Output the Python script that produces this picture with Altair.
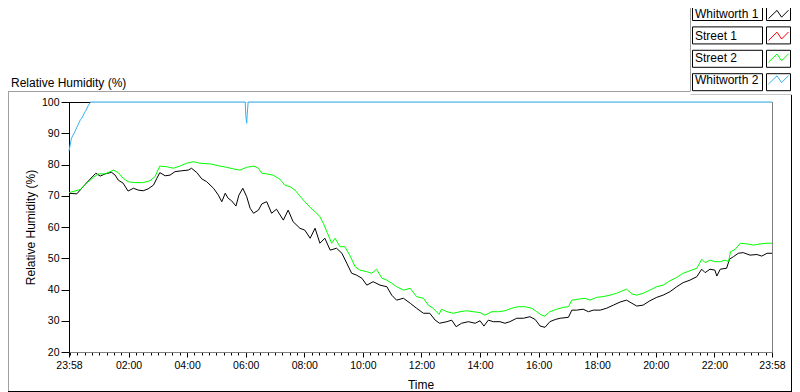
import altair as alt
import pandas as pd

# ---------------- data (minutes elapsed since 23:58, relative humidity %) ----------------
SERIES = ["Whitworth 1", "Street 1", "Street 2", "Whitworth 2"]
COLORS = ["#000000", "#ff0000", "#00ff00", "#33b1f2"]

BLACK_T = [0, 16, 29, 43, 55, 64, 74, 87, 94, 101,
           111, 121, 132, 142, 152, 162, 173, 180, 186, 197,
           207, 217, 231, 244, 251, 262, 272, 282, 296, 306,
           313, 320, 326, 333, 342, 348, 356, 364, 371, 378,
           388, 395, 405, 415, 425, 439, 449, 459, 473, 483,
           494, 504, 514, 524, 535, 548, 559, 569, 579, 589,
           600, 610, 623, 637, 651, 661, 671, 685, 699, 712,
           726, 739, 750, 759, 774, 784, 793, 804, 818, 832,
           842, 850, 859, 869, 883, 893, 903, 917, 931, 944,
           955, 965, 975, 985, 996, 1006, 1023, 1030, 1040, 1053,
           1064, 1074, 1088, 1101, 1115, 1129, 1142, 1153, 1163, 1176,
           1190, 1204, 1217, 1231, 1245, 1258, 1272, 1286, 1296, 1303,
           1313, 1323, 1327, 1334, 1347, 1353, 1361, 1371, 1381, 1395,
           1409, 1419, 1430, 1440]
BLACK_V = [70.8, 70.6, 72.9, 75.3, 77.2, 76.3, 77.0, 77.5, 76.7, 75.0,
           74.0, 71.5, 72.4, 71.8, 71.6, 72.2, 73.4, 75.6, 77.4, 76.4,
           76.6, 77.7, 78.0, 78.2, 78.8, 77.4, 75.4, 74.5, 72.4, 70.2,
           68.1, 70.8, 69.2, 68.4, 66.7, 70.2, 72.4, 69.7, 66.0, 64.4,
           65.4, 67.4, 68.1, 64.4, 65.7, 62.2, 65.4, 61.7, 59.6, 59.0,
           56.4, 59.6, 54.8, 56.4, 52.6, 53.2, 51.6, 48.4, 45.2, 44.6,
           43.6, 41.4, 42.5, 41.4, 40.9, 38.2, 36.6, 37.2, 35.6, 34.0,
           32.4, 32.4, 30.2, 29.2, 29.7, 30.2, 28.1, 29.2, 29.7, 29.2,
           30.0, 28.3, 30.2, 29.7, 29.7, 29.2, 29.7, 30.8, 30.8, 31.3,
           30.4, 28.3, 27.9, 29.7, 30.4, 30.8, 31.1, 33.4, 33.4, 33.7,
           32.9, 33.4, 33.4, 34.0, 35.0, 36.0, 36.6, 35.6, 34.7, 35.0,
           36.4, 37.5, 38.2, 39.3, 40.9, 42.2, 43.0, 44.1, 46.5, 45.4,
           46.5, 46.2, 44.3, 46.5, 46.8, 49.7, 50.5, 51.6, 51.8, 51.0,
           51.2, 50.7, 51.6, 51.6]

GREEN_T = [0, 23, 36, 50, 60, 74, 84, 91, 101, 111,
           121, 135, 152, 166, 176, 186, 200, 214, 227, 241,
           255, 268, 289, 309, 323, 337, 350, 364, 378, 388,
           395, 405, 418, 432, 442, 453, 463, 473, 483, 494,
           504, 514, 521, 529, 538, 545, 555, 565, 576, 586,
           596, 610, 620, 630, 641, 651, 661, 671, 685, 699,
           712, 726, 736, 746, 758, 763, 774, 787, 801, 815,
           828, 842, 852, 866, 880, 893, 907, 920, 934, 948,
           958, 968, 975, 985, 999, 1013, 1023, 1030, 1043, 1057,
           1067, 1081, 1094, 1108, 1122, 1129, 1142, 1153, 1163, 1176,
           1190, 1204, 1217, 1231, 1245, 1258, 1272, 1286, 1296, 1303,
           1313, 1323, 1334, 1344, 1351, 1355, 1365, 1375, 1389, 1402,
           1416, 1430, 1440]
GREEN_V = [71.0, 72.0, 74.0, 75.9, 77.0, 77.0, 77.7, 78.2, 77.4, 75.6,
           74.5, 74.2, 74.2, 74.8, 76.1, 79.5, 79.3, 78.8, 79.5, 80.4,
           80.9, 80.4, 80.2, 79.5, 79.1, 78.6, 78.2, 79.1, 79.5, 78.8,
           77.2, 77.0, 76.6, 75.3, 73.4, 72.9, 71.8, 69.9, 68.1, 66.3,
           64.9, 63.3, 61.2, 58.2, 54.8, 56.4, 53.7, 53.7, 50.7, 47.3,
           46.2, 45.7, 45.2, 46.5, 43.6, 43.0, 42.0, 40.9, 39.8, 40.4,
           37.7, 37.2, 35.0, 34.0, 32.0, 33.7, 32.9, 32.4, 32.9, 33.2,
           32.9, 32.6, 31.8, 32.9, 32.9, 33.2, 34.0, 34.5, 34.5, 34.0,
           32.9, 31.8, 31.5, 32.9, 33.7, 34.3, 34.5, 36.6, 36.9, 37.2,
           36.6, 37.5, 37.7, 38.2, 38.8, 39.3, 40.1, 38.6, 38.2, 38.8,
           39.8, 40.9, 41.4, 42.8, 43.9, 45.2, 46.0, 46.8, 49.7, 48.6,
           49.4, 48.9, 48.9, 49.4, 48.9, 52.1, 52.9, 54.8, 54.6, 54.2,
           54.6, 54.8, 54.8]

BLUE_T = [0, 5, 12, 23, 26, 33, 35, 40, 44, 361, 362, 364, 365, 367, 1440]
BLUE_V = [84.3, 88.4, 90.5, 94.2, 94.8, 96.9, 97.4, 99.0, 100, 100, 96.0, 93.2, 96.0, 100, 100]

RED_T = []
RED_V = []

MAJOR_TICKS = [0, 122, 242, 362, 482, 602, 722, 842, 962, 1082, 1202, 1322, 1440]
Y_TICKS = [20, 30, 40, 50, 60, 70, 80, 90, 100]
CHART_TITLE = "Relative Humidity (%)"
X_TITLE = "Time"

# ---------------- build table ----------------
rows = []
for name, ts, vs in [(SERIES[0], BLACK_T, BLACK_V), (SERIES[1], RED_T, RED_V),
                     (SERIES[2], GREEN_T, GREEN_V), (SERIES[3], BLUE_T, BLUE_V)]:
    for t, v in zip(ts, vs):
        rows.append({"series": name, "t": t, "rh": v})
df = pd.DataFrame(rows)
legend_df = pd.DataFrame({"series": SERIES})

W, H = 703, 250
FONT = "Liberation Sans"
ALL_TICKS = sorted(set([0, 1440] + list(range(2, 1440, 15))))
MAJ_TEST = "indexof([" + ",".join(str(v) for v in MAJOR_TICKS) + "], datum.value) >= 0"
LABEL_EXPR = ("(" + MAJ_TEST + ") ? timeFormat(datetime(2000, 0, 1, 0, (1438 + datum.value) % 1440), '%H:%M') : ''")

color_scale = alt.Scale(domain=SERIES, range=COLORS)
one = alt.Data(values=[{}])

x_axis = alt.Axis(values=ALL_TICKS, labelExpr=LABEL_EXPR, labelOverlap=False, labelFlush=False,
                  tickSize={"condition": {"test": MAJ_TEST, "value": 5}, "value": 3},
                  tickColor="black", domainColor="#808080", grid=False,
                  labelFont=FONT, labelFontSize=10.5, labelColor="black", labelPadding=3,
                  title=X_TITLE, titleFont=FONT, titleFontSize=12, titleFontWeight="normal",
                  titleColor="black", titleY=36.5, titleBaseline="alphabetic")
y_axis = alt.Axis(values=Y_TICKS, tickSize=8, tickColor="black", domainColor="black", grid=False,
                  labelFont=FONT, labelFontSize=10.5, labelColor="black", labelPadding=2,
                  title=CHART_TITLE, titleFont=FONT, titleFontSize=12, titleFontWeight="normal",
                  titleColor="black", titleX=-32)

# plot-area borders: short black top edge (left of where the blue trace sits on 100), grey right edge
top_border = alt.Chart(one).mark_rule(color="black", strokeWidth=1).encode(
    x=alt.value(0), x2=alt.value(22), y=alt.value(0.5))
right_border = alt.Chart(one).mark_rule(color="#808080", strokeWidth=1).encode(
    x=alt.value(W + 0.5), y=alt.value(0), y2=alt.value(H))

lines = alt.Chart(df).mark_line(strokeWidth=1).encode(
    x=alt.X("t:Q", scale=alt.Scale(domain=[0, 1440], nice=False, zero=False), axis=x_axis),
    y=alt.Y("rh:Q", scale=alt.Scale(domain=[20, 100], nice=False, zero=False), axis=y_axis),
    color=alt.Color("series:N", scale=color_scale, legend=None),
)

# outer frame
def rule(x1, x2, y1, y2, color):
    return alt.Chart(one).mark_rule(color=color, strokeWidth=1).encode(
        x=alt.value(x1), x2=alt.value(x2), y=alt.value(y1), y2=alt.value(y2))

frame = [
    rule(-61, 621, -10.5, -10.5, "#a0a0a0"),
    rule(-60.5, -60.5, -10.5, 289.5, "#a0a0a0"),
    rule(-61, 723, 289.5, 289.5, "#000000"),
    rule(722.5, 722.5, -7.5, 289.5, "#000000"),
    rule(621.5, 621.5, -94, -10.5, "#a0a0a0"),
    rule(621.5, 723, -7.5, -7.5, "#c8c8c8"),
]

title_text = alt.Chart(one).mark_text(align="left", baseline="alphabetic", font=FONT, fontSize=12,
                                      color="black").encode(
    x=alt.value(-58), y=alt.value(-15.5), text=alt.value(CHART_TITLE))

ly = alt.Y("series:N", scale=alt.Scale(domain=SERIES, range=[-98.5, -11.3], paddingInner=0.273,
                                        paddingOuter=0), axis=None)
ZIG = "M-1,0.42L-0.15,-0.4L0.31,0.28L1,-0.42"
leg_box1 = alt.Chart(legend_df).mark_rect(fill="white", stroke="black", strokeWidth=1).encode(
    y=ly, x=alt.value(623.5), x2=alt.value(693.5))
leg_box2 = alt.Chart(legend_df).mark_rect(fill="white", stroke="black", strokeWidth=1).encode(
    y=ly, x=alt.value(697.5), x2=alt.value(721.5))
leg_text = alt.Chart(legend_df).mark_text(align="left", baseline="middle", font=FONT, fontSize=12,
                                          color="black").encode(
    y=ly, x=alt.value(626), text="series:N")
leg_icon = alt.Chart(legend_df).mark_point(shape=ZIG, size=400, filled=False, strokeWidth=1,
                                           opacity=1).encode(
    y=ly, x=alt.value(709.5), color=alt.Color("series:N", scale=color_scale, legend=None))

chart = alt.layer(top_border, right_border, lines, *frame, title_text,
                  leg_box1, leg_box2, leg_text, leg_icon).resolve_scale(
    y="independent"
).properties(
    width=W, height=H,
    autosize=alt.AutoSizeParams(type="none"),
    padding={"left": 61, "top": 94, "right": 20, "bottom": 40},
).configure_view(stroke=None).configure(background="white")

chart.save("out.html", embed_options={"renderer": "svg", "actions": False})
